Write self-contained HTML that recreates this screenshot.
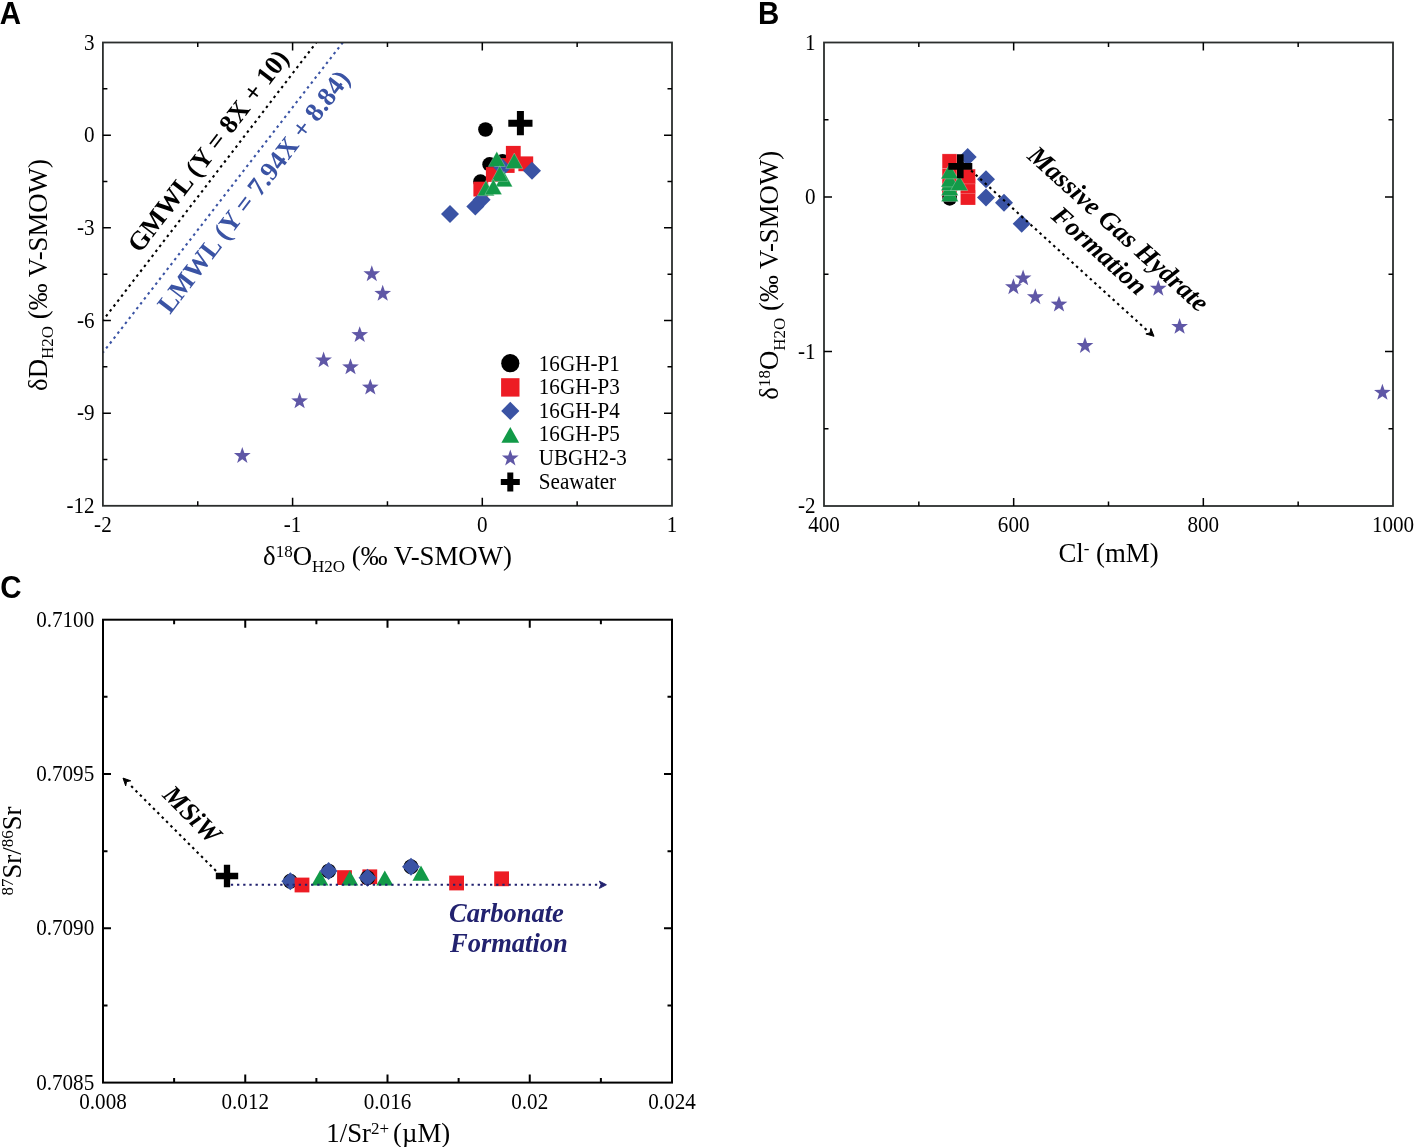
<!DOCTYPE html>
<html><head><meta charset="utf-8"><style>
html,body{margin:0;padding:0;background:#fff;overflow:hidden;}
svg{display:block;will-change:transform;}
svg{font-family:"Liberation Serif",serif;}
</style></head><body>
<svg width="1414" height="1147" viewBox="0 0 1414 1147">
<clipPath id="cA"><rect x="102.9" y="42.5" width="569.1" height="463.3"/></clipPath>
<g clip-path="url(#cA)">
<line x1="102.9" y1="320.48" x2="316.31" y2="42.5" stroke="#000" stroke-width="2.1" stroke-dasharray="2.5 3.76" stroke-dashoffset="1.148"/>
<line x1="102.9" y1="352.6" x2="342.77" y2="42.5" stroke="#3a53a4" stroke-width="2.1" stroke-dasharray="2.5 3.7" stroke-dashoffset="0.888"/>
</g>
<rect x="102.9" y="42.5" width="569.1" height="463.3" fill="none" stroke="#2b2e2d" stroke-width="1.8"/>
<path d="M197.75 505.8v-4.5M197.75 42.5v4.5M292.6 505.8v-8M292.6 42.5v8M387.45 505.8v-4.5M387.45 42.5v4.5M482.3 505.8v-8M482.3 42.5v8M577.15 505.8v-4.5M577.15 42.5v4.5M102.9 88.83h4.5M672 88.83h-4.5M102.9 135.16h8M672 135.16h-8M102.9 181.49h4.5M672 181.49h-4.5M102.9 227.82h8M672 227.82h-8M102.9 274.15h4.5M672 274.15h-4.5M102.9 320.48h8M672 320.48h-8M102.9 366.81h4.5M672 366.81h-4.5M102.9 413.14h8M672 413.14h-8M102.9 459.47h4.5M672 459.47h-4.5" stroke="#000" stroke-width="1.5" fill="none"/>
<text transform="translate(102.9,532) scale(0.895,1)" font-size="23.6" text-anchor="middle">-2</text>
<text transform="translate(292.6,532) scale(0.895,1)" font-size="23.6" text-anchor="middle">-1</text>
<text transform="translate(482.3,532) scale(0.895,1)" font-size="23.6" text-anchor="middle">0</text>
<text transform="translate(672,532) scale(0.895,1)" font-size="23.6" text-anchor="middle">1</text>
<text transform="translate(94.6,49.6) scale(0.895,1)" font-size="23.6" text-anchor="end">3</text>
<text transform="translate(94.6,142.26) scale(0.895,1)" font-size="23.6" text-anchor="end">0</text>
<text transform="translate(94.6,234.92) scale(0.895,1)" font-size="23.6" text-anchor="end">-3</text>
<text transform="translate(94.6,327.58) scale(0.895,1)" font-size="23.6" text-anchor="end">-6</text>
<text transform="translate(94.6,420.24) scale(0.895,1)" font-size="23.6" text-anchor="end">-9</text>
<text transform="translate(94.6,512.9) scale(0.895,1)" font-size="23.6" text-anchor="end">-12</text>
<text x="387.5" y="565" font-size="26.8" text-anchor="middle">δ<tspan font-size="17" dy="-8.2">18</tspan><tspan dy="8.2">O</tspan><tspan font-size="17" dy="6.5">H2O</tspan><tspan dy="-6.5"> (‰ V-SMOW)</tspan></text>
<text transform="translate(46.5,275) rotate(-90)" x="0" y="0" font-size="26.8" text-anchor="middle">δD<tspan font-size="17" dy="6.5">H2O</tspan><tspan dy="-6.5"> (‰ V-SMOW)</tspan></text>
<text transform="translate(140,254) rotate(-52.5)" font-size="26.5" font-weight="bold">GMWL (Y = 8X + 10)</text>
<text transform="translate(170,315) rotate(-52.5)" font-size="26.6" font-weight="bold" fill="#3a53a4">LMWL (Y = 7.94X + 8.84)</text>
<path d="M371.8 265.24L373.87 271.19L380.17 271.32L375.15 275.13L376.97 281.16L371.8 277.56L366.63 281.16L368.45 275.13L363.43 271.32L369.73 271.19Z" fill="#5f57a6"/>
<path d="M382.7 284.84L384.77 290.79L391.07 290.92L386.05 294.73L387.87 300.76L382.7 297.16L377.53 300.76L379.35 294.73L374.33 290.92L380.63 290.79Z" fill="#5f57a6"/>
<path d="M359.7 326.14L361.77 332.09L368.07 332.22L363.05 336.03L364.87 342.06L359.7 338.46L354.53 342.06L356.35 336.03L351.33 332.22L357.63 332.09Z" fill="#5f57a6"/>
<path d="M323.6 351.44L325.67 357.39L331.97 357.52L326.95 361.33L328.77 367.36L323.6 363.76L318.43 367.36L320.25 361.33L315.23 357.52L321.53 357.39Z" fill="#5f57a6"/>
<path d="M350.5 358.34L352.57 364.29L358.87 364.42L353.85 368.23L355.67 374.26L350.5 370.66L345.33 374.26L347.15 368.23L342.13 364.42L348.43 364.29Z" fill="#5f57a6"/>
<path d="M370.3 378.64L372.37 384.59L378.67 384.72L373.65 388.53L375.47 394.56L370.3 390.96L365.13 394.56L366.95 388.53L361.93 384.72L368.23 384.59Z" fill="#5f57a6"/>
<path d="M299.6 392.34L301.67 398.29L307.97 398.42L302.95 402.23L304.77 408.26L299.6 404.66L294.43 408.26L296.25 402.23L291.23 398.42L297.53 398.29Z" fill="#5f57a6"/>
<path d="M242.3 447.04L244.37 452.99L250.67 453.12L245.65 456.93L247.47 462.96L242.3 459.36L237.13 462.96L238.95 456.93L233.93 453.12L240.23 452.99Z" fill="#5f57a6"/>
<circle cx="485.5" cy="129.5" r="7.35" fill="#000"/>
<circle cx="502.5" cy="161.4" r="7.35" fill="#000"/>
<circle cx="489.6" cy="164.4" r="7.35" fill="#000"/>
<circle cx="480.5" cy="181.6" r="7.35" fill="#000"/>
<rect x="473.4" y="181.7" width="14.8" height="14.8" fill="#ed1c24"/>
<rect x="485.9" y="167.1" width="14.8" height="14.8" fill="#ed1c24"/>
<rect x="499.8" y="158.1" width="14.8" height="14.8" fill="#ed1c24"/>
<rect x="505.9" y="145.9" width="14.8" height="14.8" fill="#ed1c24"/>
<rect x="518.4" y="156.4" width="14.8" height="14.8" fill="#ed1c24"/>
<path d="M502.4 158.6L511.4 167.6L502.4 176.6L493.4 167.6Z" fill="#3a53a4"/>
<path d="M481.6 190.7L490.6 199.7L481.6 208.7L472.6 199.7Z" fill="#3a53a4"/>
<path d="M475.3 197.5L484.3 206.5L475.3 215.5L466.3 206.5Z" fill="#3a53a4"/>
<path d="M450 204.9L459 213.9L450 222.9L441 213.9Z" fill="#3a53a4"/>
<path d="M532 161.8L541 170.8L532 179.8L523 170.8Z" fill="#3a53a4"/>
<path d="M496.8 151.4L505.3 166.5L488.3 166.5Z" fill="#129a48" stroke="#fff" stroke-opacity="0.5" stroke-width="0.5"/>
<path d="M514.25 153L522.75 168.6L505.75 168.6Z" fill="#129a48" stroke="#fff" stroke-opacity="0.5" stroke-width="0.5"/>
<path d="M504 171.4L512.5 186.7L495.5 186.7Z" fill="#129a48" stroke="#fff" stroke-opacity="0.5" stroke-width="0.5"/>
<path d="M499.7 165.8L508.2 181.4L491.2 181.4Z" fill="#129a48" stroke="#fff" stroke-opacity="0.5" stroke-width="0.5"/>
<path d="M485.9 180.5L494.4 195.7L477.4 195.7Z" fill="#129a48" stroke="#fff" stroke-opacity="0.5" stroke-width="0.5"/>
<path d="M493.4 179.3L501.9 194.6L484.9 194.6Z" fill="#129a48" stroke="#fff" stroke-opacity="0.5" stroke-width="0.5"/>
<path d="M516.9 111.1H523.9V119.7H532.5V126.7H523.9V135.3H516.9V126.7H508.3V119.7H516.9Z" fill="#000"/>
<circle cx="510.3" cy="363.2" r="9.1" fill="#000"/>
<rect x="501.1" y="378.2" width="18.4" height="18.4" fill="#ed1c24"/>
<path d="M510.3 401.8L519.4 410.9L510.3 420L501.2 410.9Z" fill="#3a53a4"/>
<path d="M510.3 427L519.2 442.7L501.4 442.7Z" fill="#129a48"/>
<path d="M510.3 449.54L512.37 455.49L518.67 455.62L513.65 459.43L515.47 465.46L510.3 461.86L505.13 465.46L506.95 459.43L501.93 455.62L508.23 455.49Z" fill="#5f57a6"/>
<path d="M507.3 472.6H513.3V479.1H519.8V485.1H513.3V491.6H507.3V485.1H500.8V479.1H507.3Z" fill="#000"/>
<text transform="translate(538.8,370.5) scale(0.895,1)" font-size="23.6" text-anchor="start">16GH-P1</text>
<text transform="translate(538.8,394.15) scale(0.895,1)" font-size="23.6" text-anchor="start">16GH-P3</text>
<text transform="translate(538.8,417.8) scale(0.895,1)" font-size="23.6" text-anchor="start">16GH-P4</text>
<text transform="translate(538.8,441.45) scale(0.895,1)" font-size="23.6" text-anchor="start">16GH-P5</text>
<text transform="translate(538.8,465.1) scale(0.895,1)" font-size="23.6" text-anchor="start">UBGH2-3</text>
<text transform="translate(538.8,488.75) scale(0.895,1)" font-size="23.6" text-anchor="start">Seawater</text>
<rect x="824" y="42.5" width="569" height="463.5" fill="none" stroke="#2b2e2d" stroke-width="1.8"/>
<path d="M918.83 506v-4.5M918.83 42.5v4.5M1013.67 506v-8M1013.67 42.5v8M1108.5 506v-4.5M1108.5 42.5v4.5M1203.33 506v-8M1203.33 42.5v8M1298.17 506v-4.5M1298.17 42.5v4.5M824 119.75h4.5M1393 119.75h-4.5M824 197h8M1393 197h-8M824 274.25h4.5M1393 274.25h-4.5M824 351.5h8M1393 351.5h-8M824 428.75h4.5M1393 428.75h-4.5" stroke="#000" stroke-width="1.5" fill="none"/>
<text transform="translate(824,531.7) scale(0.895,1)" font-size="23.6" text-anchor="middle">400</text>
<text transform="translate(1013.67,531.7) scale(0.895,1)" font-size="23.6" text-anchor="middle">600</text>
<text transform="translate(1203.33,531.7) scale(0.895,1)" font-size="23.6" text-anchor="middle">800</text>
<text transform="translate(1393,531.7) scale(0.895,1)" font-size="23.6" text-anchor="middle">1000</text>
<text transform="translate(815.5,49.6) scale(0.895,1)" font-size="23.6" text-anchor="end">1</text>
<text transform="translate(815.5,204.1) scale(0.895,1)" font-size="23.6" text-anchor="end">0</text>
<text transform="translate(815.5,358.6) scale(0.895,1)" font-size="23.6" text-anchor="end">-1</text>
<text transform="translate(815.5,513.1) scale(0.895,1)" font-size="23.6" text-anchor="end">-2</text>
<text x="1108.5" y="562" font-size="26.8" text-anchor="middle">Cl<tspan font-size="17" dy="-8.5">-</tspan><tspan dy="8.5"> (mM)</tspan></text>
<text transform="translate(778.3,275.3) rotate(-90)" font-size="26.8" text-anchor="middle">δ<tspan font-size="17" dy="-8">18</tspan><tspan dy="8">O</tspan><tspan font-size="17" dy="6.5">H2O</tspan><tspan dy="-6.5"> (‰ V-SMOW)</tspan></text>
<path d="M1013.4 278.24L1015.47 284.19L1021.77 284.32L1016.75 288.13L1018.57 294.16L1013.4 290.56L1008.23 294.16L1010.05 288.13L1005.03 284.32L1011.33 284.19Z" fill="#5f57a6"/>
<path d="M1023.1 269.44L1025.17 275.39L1031.47 275.52L1026.45 279.33L1028.27 285.36L1023.1 281.76L1017.93 285.36L1019.75 279.33L1014.73 275.52L1021.03 275.39Z" fill="#5f57a6"/>
<path d="M1035.3 288.24L1037.37 294.19L1043.67 294.32L1038.65 298.13L1040.47 304.16L1035.3 300.56L1030.13 304.16L1031.95 298.13L1026.93 294.32L1033.23 294.19Z" fill="#5f57a6"/>
<path d="M1059 295.64L1061.07 301.59L1067.37 301.72L1062.35 305.53L1064.17 311.56L1059 307.96L1053.83 311.56L1055.65 305.53L1050.63 301.72L1056.93 301.59Z" fill="#5f57a6"/>
<path d="M1085 337.04L1087.07 342.99L1093.37 343.12L1088.35 346.93L1090.17 352.96L1085 349.36L1079.83 352.96L1081.65 346.93L1076.63 343.12L1082.93 342.99Z" fill="#5f57a6"/>
<path d="M1158.3 279.74L1160.37 285.69L1166.67 285.82L1161.65 289.63L1163.47 295.66L1158.3 292.06L1153.13 295.66L1154.95 289.63L1149.93 285.82L1156.23 285.69Z" fill="#5f57a6"/>
<path d="M1179.6 317.94L1181.67 323.89L1187.97 324.02L1182.95 327.83L1184.77 333.86L1179.6 330.26L1174.43 333.86L1176.25 327.83L1171.23 324.02L1177.53 323.89Z" fill="#5f57a6"/>
<path d="M1382.4 383.84L1384.47 389.79L1390.77 389.92L1385.75 393.73L1387.57 399.76L1382.4 396.16L1377.23 399.76L1379.05 393.73L1374.03 389.92L1380.33 389.79Z" fill="#5f57a6"/>
<rect x="942.1" y="182.6" width="14.8" height="14.8" fill="#ed1c24"/>
<rect x="942.1" y="168.6" width="14.8" height="14.8" fill="#ed1c24" stroke="#fff" stroke-opacity="0.5" stroke-width="0.5"/>
<rect x="942.1" y="153.9" width="14.8" height="14.8" fill="#ed1c24" stroke="#fff" stroke-opacity="0.5" stroke-width="0.5"/>
<rect x="960.6" y="190.1" width="14.8" height="14.8" fill="#ed1c24"/>
<rect x="960.6" y="178.6" width="14.8" height="14.8" fill="#ed1c24" stroke="#fff" stroke-opacity="0.5" stroke-width="0.5"/>
<rect x="960.6" y="169.1" width="14.8" height="14.8" fill="#ed1c24" stroke="#fff" stroke-opacity="0.5" stroke-width="0.5"/>
<circle cx="949.7" cy="198.4" r="7.35" fill="#000"/>
<path d="M949.8 186.2L958.45 201.5L941.15 201.5Z" fill="#129a48" stroke="#fff" stroke-opacity="0.5" stroke-width="0.5"/>
<path d="M949.8 180.2L958.45 195.5L941.15 195.5Z" fill="#129a48" stroke="#fff" stroke-opacity="0.5" stroke-width="0.5"/>
<path d="M949.6 175.2L958.25 190.5L940.95 190.5Z" fill="#129a48" stroke="#fff" stroke-opacity="0.5" stroke-width="0.5"/>
<path d="M949.6 171.6L958.25 186.9L940.95 186.9Z" fill="#129a48" stroke="#fff" stroke-opacity="0.5" stroke-width="0.5"/>
<path d="M959.2 175.2L967.85 190.5L950.55 190.5Z" fill="#129a48" stroke="#fff" stroke-opacity="0.5" stroke-width="0.5"/>
<path d="M949.6 163.5L958.25 178.8L940.95 178.8Z" fill="#129a48" stroke="#fff" stroke-opacity="0.5" stroke-width="0.5"/>
<path d="M967.7 148L976.7 157L967.7 166L958.7 157Z" fill="#3a53a4"/>
<path d="M986 170.2L995 179.2L986 188.2L977 179.2Z" fill="#3a53a4"/>
<path d="M986 188.5L995 197.5L986 206.5L977 197.5Z" fill="#3a53a4"/>
<path d="M1004 193.8L1013 202.8L1004 211.8L995 202.8Z" fill="#3a53a4"/>
<path d="M1021.7 214.7L1030.7 223.7L1021.7 232.7L1012.7 223.7Z" fill="#3a53a4"/>
<path d="M957 154.35H963.6V163.05H972.3V169.65H963.6V178.35H957V169.65H948.3V163.05H957Z" fill="#000"/>
<line x1="960.2" y1="160.64" x2="1147" y2="330.3" stroke="#000" stroke-width="2.1" stroke-dasharray="2.5 3.67" stroke-dashoffset="3.766"/>
<path d="M1154 336.3L1145.89 333.93L1150.15 332.8L1150.86 328.45Z" fill="#000" stroke="#000" stroke-width="1.0" stroke-linejoin="round"/>
<text transform="translate(1026.2,157.4) rotate(42)" font-size="26.5" font-weight="bold" font-style="italic">Massive Gas Hydrate</text>
<text transform="translate(1050,217.7) rotate(42)" font-size="26.5" font-weight="bold" font-style="italic">Formation</text>
<rect x="103" y="619.7" width="569" height="462.9" fill="none" stroke="#000" stroke-width="2.0"/>
<path d="M174.12 1082.6v-4.5M174.12 619.7v4.5M245.25 1082.6v-8M245.25 619.7v8M316.38 1082.6v-4.5M316.38 619.7v4.5M387.5 1082.6v-8M387.5 619.7v8M458.63 1082.6v-4.5M458.63 619.7v4.5M529.75 1082.6v-8M529.75 619.7v8M600.88 1082.6v-4.5M600.88 619.7v4.5M103 696.85h4.5M672 696.85h-4.5M103 774h8M672 774h-8M103 851.15h4.5M672 851.15h-4.5M103 928.3h8M672 928.3h-8M103 1005.45h4.5M672 1005.45h-4.5" stroke="#000" stroke-width="2.0" fill="none"/>
<text transform="translate(103,1108.8) scale(0.895,1)" font-size="23.6" text-anchor="middle">0.008</text>
<text transform="translate(245.25,1108.8) scale(0.895,1)" font-size="23.6" text-anchor="middle">0.012</text>
<text transform="translate(387.5,1108.8) scale(0.895,1)" font-size="23.6" text-anchor="middle">0.016</text>
<text transform="translate(529.75,1108.8) scale(0.895,1)" font-size="23.6" text-anchor="middle">0.02</text>
<text transform="translate(672,1108.8) scale(0.895,1)" font-size="23.6" text-anchor="middle">0.024</text>
<text transform="translate(94.2,626.8) scale(0.895,1)" font-size="23.6" text-anchor="end">0.7100</text>
<text transform="translate(94.2,781.1) scale(0.895,1)" font-size="23.6" text-anchor="end">0.7095</text>
<text transform="translate(94.2,935.4) scale(0.895,1)" font-size="23.6" text-anchor="end">0.7090</text>
<text transform="translate(94.2,1089.7) scale(0.895,1)" font-size="23.6" text-anchor="end">0.7085</text>
<text x="388.3" y="1142.1" font-size="26.8" text-anchor="middle">1/Sr<tspan font-size="17" dy="-8.5">2+</tspan><tspan dy="8.5" dx="4">(µM)</tspan></text>
<text transform="translate(21,851) rotate(-90)" font-size="26.8" text-anchor="middle"><tspan font-size="17" dy="-8">87</tspan><tspan dy="8">Sr/</tspan><tspan font-size="17" dy="-8">86</tspan><tspan dy="8">Sr</tspan></text>
<circle cx="290.3" cy="881.2" r="7.45" fill="#000"/>
<path d="M290.3 872.2L299.3 881.2L290.3 890.2L281.3 881.2Z" fill="#3a53a4"/>
<rect x="294.6" y="877.6" width="14.8" height="14.8" fill="#ed1c24"/>
<path d="M319.9 870.5L328.4 885.5L311.4 885.5Z" fill="#129a48"/>
<circle cx="328.6" cy="871.1" r="7.45" fill="#000"/>
<path d="M328.6 862.1L337.6 871.1L328.6 880.1L319.6 871.1Z" fill="#3a53a4"/>
<rect x="337.1" y="870.2" width="14.8" height="14.8" fill="#ed1c24"/>
<path d="M349.8 870.5L358.3 885.5L341.3 885.5Z" fill="#129a48"/>
<rect x="362.4" y="869.4" width="14.8" height="14.8" fill="#ed1c24"/>
<circle cx="367.5" cy="877.7" r="7.45" fill="#000"/>
<path d="M367.5 868.7L376.5 877.7L367.5 886.7L358.5 877.7Z" fill="#3a53a4"/>
<path d="M384.8 870.5L393.3 885.5L376.3 885.5Z" fill="#129a48"/>
<circle cx="411" cy="866.8" r="7.45" fill="#000"/>
<path d="M411 857.8L420 866.8L411 875.8L402 866.8Z" fill="#3a53a4"/>
<path d="M421 865.5L429.5 880.7L412.5 880.7Z" fill="#129a48"/>
<rect x="449.2" y="875.6" width="14.8" height="14.8" fill="#ed1c24"/>
<rect x="494.2" y="871.4" width="14.8" height="14.8" fill="#ed1c24"/>
<path d="M223.85 864.8H230.15V872.85H238.2V879.15H230.15V887.2H223.85V879.15H215.8V872.85H223.85Z" fill="#000"/>
<line x1="230.8" y1="884.76" x2="597.3" y2="884.76" stroke="#22226f" stroke-width="1.8" stroke-dasharray="2.3 3.87" stroke-dashoffset="6.117"/>
<path d="M606.4 884.76L599.4 888.36L601 884.76L599.4 881.16Z" fill="#22226f" stroke="#22226f" stroke-width="1.0" stroke-linejoin="round"/>
<line x1="216.3" y1="871.2" x2="130.5" y2="785.4" stroke="#000" stroke-width="2.1" stroke-dasharray="2.5 3.68" stroke-dashoffset="5.733"/>
<path d="M123 778.1L130.78 780.79L126.54 781.64L125.69 785.88Z" fill="#000" stroke="#000" stroke-width="1.0" stroke-linejoin="round"/>
<text transform="translate(161.5,796) rotate(45)" font-size="26.5" font-weight="bold" font-style="italic">MSiW</text>
<text x="449" y="922" font-size="26.5" font-weight="bold" font-style="italic" fill="#22226f">Carbonate</text>
<text x="450" y="951.5" font-size="26.5" font-weight="bold" font-style="italic" fill="#22226f">Formation</text>
<text transform="translate(-0.3,24.3) scale(1,1.05)" font-size="29.5" font-weight="bold" font-family="Liberation Sans, sans-serif">A</text>
<text transform="translate(758,24.3) scale(1,1.05)" font-size="29.5" font-weight="bold" font-family="Liberation Sans, sans-serif">B</text>
<text transform="translate(0.3,598.2) scale(1,1.05)" font-size="29.5" font-weight="bold" font-family="Liberation Sans, sans-serif">C</text>
</svg></body></html>
